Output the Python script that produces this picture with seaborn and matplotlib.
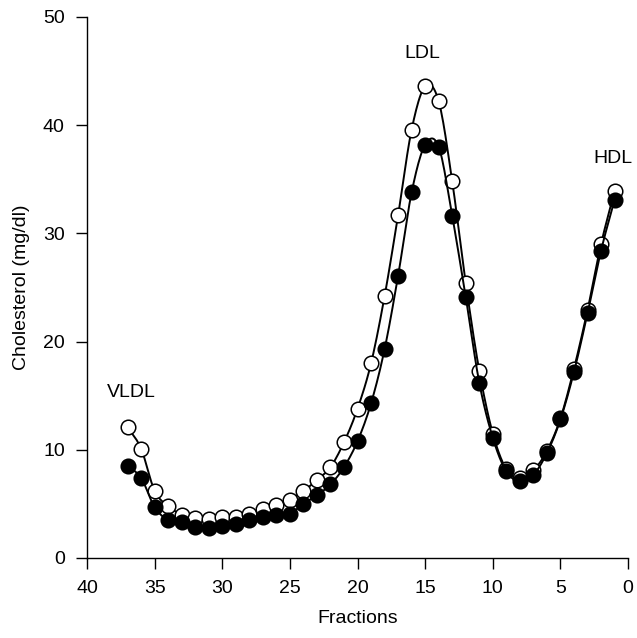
import numpy as np
import matplotlib
matplotlib.use("Agg")
import matplotlib.pyplot as plt
import seaborn as sns

# fraction numbers (collected from 37 down to 1)
fractions = list(range(37, 0, -1))

# open circles
chol_open = [12.1, 10.1, 6.2, 4.8, 4.0, 3.7, 3.6, 3.8, 3.8, 4.1, 4.5, 4.9, 5.4,
             6.2, 7.2, 8.4, 10.7, 13.8, 18.0, 24.2, 31.7, 39.6, 43.6, 42.2, 34.8,
             25.4, 17.3, 11.5, 8.2, 7.4, 8.1, 9.9, 12.9, 17.5, 22.9, 29.0, 33.9]

# filled circles
chol_filled = [8.5, 7.4, 4.7, 3.5, 3.3, 2.9, 2.8, 3.0, 3.1, 3.5, 3.8, 4.0, 4.1,
               5.0, 5.8, 6.8, 8.4, 10.8, 14.3, 19.3, 26.1, 33.8, 38.2, 38.0, 31.6,
               24.1, 16.2, 11.1, 8.0, 7.1, 7.7, 9.7, 12.8, 17.2, 22.6, 28.4, 33.1]

peaks = ["VLDL", "LDL", "HDL"]
peak_x = [36.7, 15.2, 1.1]
peak_y = [15.3, 46.6, 36.9]


def smooth(x, y, n=12):
    """Catmull-Rom curve through the points, for drawing only."""
    x = np.asarray(x, float)
    y = np.asarray(y, float)
    px = np.concatenate([[2 * x[0] - x[1]], x, [2 * x[-1] - x[-2]]])
    py = np.concatenate([[2 * y[0] - y[1]], y, [2 * y[-1] - y[-2]]])
    t = np.linspace(0, 1, n, endpoint=False)
    xs, ys = [], []
    for i in range(1, len(px) - 2):
        for p, out in ((px, xs), (py, ys)):
            p0, p1, p2, p3 = p[i - 1], p[i], p[i + 1], p[i + 2]
            out.extend(0.5 * (2 * p1 + (-p0 + p2) * t
                              + (2 * p0 - 5 * p1 + 4 * p2 - p3) * t ** 2
                              + (-p0 + 3 * p1 - 3 * p2 + p3) * t ** 3))
    xs.append(x[-1])
    ys.append(y[-1])
    return np.array(xs), np.array(ys)


sns.set_style("ticks")
plt.rcParams["font.family"] = ["Liberation Sans", "DejaVu Sans"]
for k in ("text.color", "axes.labelcolor", "xtick.color", "ytick.color", "axes.edgecolor"):
    plt.rcParams[k] = "black"

fig = plt.figure(figsize=(6.37, 6.38), dpi=100)
ax = fig.add_axes([0.1366, 0.1254, 0.8494, 0.8480])

for vals, face, z in ((chol_open, "white", 2), (chol_filled, "black", 3)):
    sx, sy = smooth(fractions, vals)
    sns.lineplot(x=sx, y=sy, sort=False, ax=ax, color="black", lw=1.4, zorder=z)
    sns.scatterplot(x=fractions, y=vals, ax=ax, s=110, color=face,
                    edgecolor="black", linewidth=1.1, zorder=z + 0.5)

for name, px, py in zip(peaks, peak_x, peak_y):
    ax.text(px, py, name, ha="center", va="center", fontsize=14)

ax.set_xlim(40, 0)
ax.set_ylim(0, 50)
ax.set_xticks(range(40, -1, -5))
ax.set_yticks(range(0, 51, 10))
ax.set_xlabel("Fractions", fontsize=14, labelpad=9)
ax.set_ylabel("Cholesterol (mg/dl)", fontsize=14, labelpad=9)
ax.tick_params(direction="out", length=8, width=1, labelsize=14, pad=8)
sns.despine(ax=ax)
for s in ("left", "bottom"):
    ax.spines[s].set_linewidth(1.0)

fig.savefig("out.png", dpi=100)
